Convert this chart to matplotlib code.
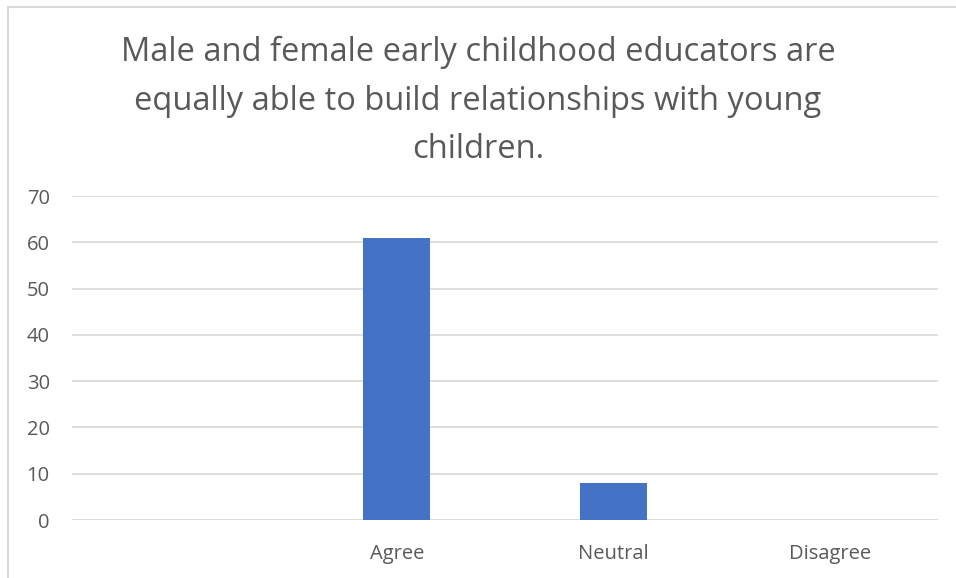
import matplotlib

matplotlib.use("Agg")
import matplotlib.pyplot as plt
from matplotlib.patches import Rectangle

# data
categories = ["", "Agree", "Neutral", "Disagree"]
counts = [0, 61, 8, 0]
yticks = [0, 10, 20, 30, 40, 50, 60, 70]
title = ("Male and female early childhood educators are\n"
         "equally able to build relationships with young\n"
         "children.")

TEXT = "#595959"
GRID = "#d9d9d9"
BAR = "#4472c4"

plt.rcParams["font.family"] = ["Open Sans", "DejaVu Sans"]

fig = plt.figure(figsize=(9.56, 5.78), dpi=100)
ax = fig.add_axes([72 / 956, 58 / 578, 866 / 956, 324 / 578])

x = list(range(len(categories)))
ax.bar(x, counts, width=0.31, color=BAR, zorder=3)
ax.set_xlim(-0.5, len(categories) - 0.5)
ax.set_ylim(0, 70)
ax.set_yticks(yticks)
ax.set_xticks(x)
ax.set_xticklabels(categories)
ax.yaxis.grid(True, color=GRID, linewidth=1.2, zorder=0)
ax.tick_params(axis="both", length=0, colors=TEXT, labelsize=14.5)
ax.tick_params(axis="y", pad=16)
ax.tick_params(axis="x", pad=17.5)
for s in ax.spines.values():
    s.set_visible(False)
ax.axhline(0, color=GRID, linewidth=1.2, zorder=1)

fig.text(0.5, 1 - 101 / 578, title, ha="center", va="center", fontsize=23.5,
         color=TEXT, linespacing=1.63)

# chart-area border (only left and top visible in the crop)
fig.patches.append(Rectangle((8 / 956, -0.1), 1.2, 1.1 - 7 / 578,
                             transform=fig.transFigure, fill=False,
                             edgecolor=GRID, linewidth=1.5))

fig.savefig("out.png", dpi=100)
